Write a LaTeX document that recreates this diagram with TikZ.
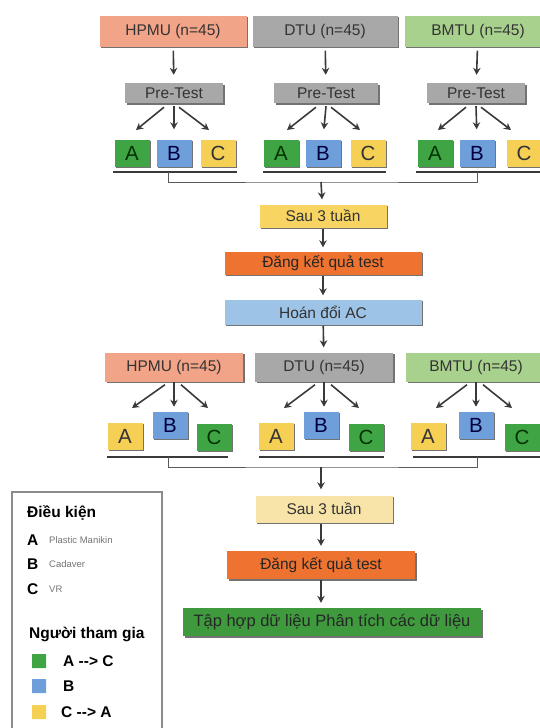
\documentclass[tikz,border=0pt]{standalone}
\usepackage{fontspec}
\setmainfont{Liberation Sans}
\usetikzlibrary{arrows.meta,shadows}

\definecolor{salmon}{HTML}{F2A489}
\definecolor{midgray}{HTML}{A8A8A8}
\definecolor{palegreen}{HTML}{A9D18E}
\definecolor{grpA}{HTML}{3FA544}
\definecolor{grpB}{HTML}{6E9FDA}
\definecolor{grpC}{HTML}{F6D055}
\definecolor{waityel}{HTML}{F8D563}
\definecolor{waitpale}{HTML}{F8E4A9}
\definecolor{regorange}{HTML}{EE7330}
\definecolor{swapblue}{HTML}{9DC3E6}
\definecolor{finalgreen}{HTML}{3F9A3E}
\definecolor{txt}{HTML}{333333}
\definecolor{linecol}{HTML}{3A3A3A}

\tikzset{
  box/.style={rectangle, inner sep=0pt, text=txt, font=\fontsize{15.5}{18}\selectfont,
    drop shadow={shadow xshift=1.6pt, shadow yshift=-1.6pt, fill=black!55, opacity=1}},
  letter/.style={box, minimum width=35pt, minimum height=27pt, font=\fontsize{20.5}{22}\selectfont},
  arr/.style={draw=linecol, line width=1.6pt, -{Stealth[length=7pt,width=7.5pt]}},
  bar/.style={draw=linecol, line width=2.6pt},
  link/.style={draw=black!65, line width=1pt},
  legtext/.style={anchor=west, inner sep=0pt, font=\bfseries\fontsize{15.5}{18}\selectfont},
  legsmall/.style={anchor=west, inner sep=0pt, text=black!55, font=\fontsize{9.5}{11}\selectfont},
  legsq/.style={rectangle, minimum size=14pt, inner sep=0pt, rounded corners=0.5pt}
}

\begin{document}
\begin{tikzpicture}[x=1pt,y=-1pt]

    \useasboundingbox (0,0) rectangle (540,728);

    % the three schools
    \node[box, fill=salmon, minimum width=147pt, minimum height=31pt] at (173,31) (hpmu) {HPMU (n=45)};
    \node[box, fill=midgray, minimum width=145pt, minimum height=31pt] at (325,31) (dtu) {DTU (n=45)};
    \node[box, fill=palegreen, minimum width=147pt, minimum height=31pt] at (478,31) (bmtu) {BMTU (n=45)};

    \node[box, fill=midgray, minimum width=98pt, minimum height=20pt] at (174,93) (pre1) {Pre-Test};
    \node[box, fill=midgray, minimum width=104pt, minimum height=20pt] at (326,93) (pre2) {Pre-Test};
    \node[box, fill=midgray, minimum width=98pt, minimum height=20pt] at (476,93) (pre3) {Pre-Test};

    \draw[arr, shorten <=4pt, shorten >=8pt] (hpmu) -- (pre1);
    \draw[arr, shorten <=4pt, shorten >=8pt] (dtu) -- (pre2);
    \draw[arr, shorten <=4pt, shorten >=8pt] (bmtu) -- (pre3);

    % first split
    \node[letter, fill=grpA, text=green!20!black] at (132,153) (a1) {A};
    \node[letter, fill=grpB, text=blue!25!black] at (174,153) (b1) {B};
    \node[letter, fill=grpC, text=black!80] at (218,153) (c1) {C};
    \node[letter, fill=grpA, text=green!20!black] at (281,153) (a2) {A};
    \node[letter, fill=grpB, text=blue!25!black] at (323,153) (b2) {B};
    \node[letter, fill=grpC, text=black!80] at (368,153) (c2) {C};
    \node[letter, fill=grpA, text=green!20!black] at (435,153) (a3) {A};
    \node[letter, fill=grpB, text=blue!25!black] at (477,153) (b3) {B};
    \node[letter, fill=grpC, text=black!80] at (524,153) (c3) {C};

    \coordinate (l1) at (136,130); \coordinate (r1) at (209,130);
    \coordinate (l2) at (287,130); \coordinate (r2) at (360,130);
    \coordinate (l3) at (438,130); \coordinate (r3) at (511,130);
    \draw[arr] ([xshift=-10pt,yshift=-4pt]pre1.south) -- (l1);
    \draw[arr, shorten >=10pt] ([yshift=-3pt]pre1.south) -- (b1.north);
    \draw[arr] ([xshift=5pt,yshift=-4pt]pre1.south) -- (r1);
    \draw[arr] ([xshift=-10pt,yshift=-4pt]pre2.south) -- (l2);
    \draw[arr, shorten >=10pt] ([yshift=-3pt]pre2.south) -- (b2.north);
    \draw[arr] ([xshift=5pt,yshift=-4pt]pre2.south) -- (r2);
    \draw[arr] ([xshift=-10pt,yshift=-4pt]pre3.south) -- (l3);
    \draw[arr, shorten >=10pt] ([yshift=-3pt]pre3.south) -- (b3.north);
    \draw[arr] ([xshift=5pt,yshift=-4pt]pre3.south) -- (r3);

    \draw[bar] (113,172) -- (237,172);
    \draw[bar] (263,172) -- (386,172);
    \draw[bar] (416,172) -- (545,172);

    \coordinate (k1) at (168,172);
    \coordinate (k2) at (321,182);
    \coordinate (k3) at (477,172);
    \draw[link] (k1) |- (k2) -| (k3);

    % middle column
    \node[box, fill=waityel, minimum width=127pt, minimum height=23pt] at (323,216) (wait1) {Sau 3 tuần};
    \node[box, fill=regorange, text=black!85, minimum width=197pt, minimum height=23pt] at (323,263) (reg1) {Đăng kết quả test};
    \node[box, fill=swapblue, minimum width=197pt, minimum height=25pt] at (323,312) (swap) {Hoán đổi AC};

    \draw[arr, shorten >=5pt] (k2) -- (wait1);
    \draw[arr, shorten <=1pt, shorten >=4pt] (wait1) -- (reg1);
    \draw[arr, shorten <=1pt, shorten >=4pt] (reg1) -- (swap);

    % the schools after the swap
    \node[box, fill=salmon, minimum width=138pt, minimum height=29pt] at (174,367) (hpmuB) {HPMU (n=45)};
    \node[box, fill=midgray, minimum width=138pt, minimum height=29pt] at (324,367) (dtuB) {DTU (n=45)};
    \node[box, fill=palegreen, minimum width=140pt, minimum height=29pt] at (476,367) (bmtuB) {BMTU (n=45)};

    \draw[arr, shorten <=1pt, shorten >=5pt] (swap) -- (dtuB);

    % second split
    \node[letter, fill=grpC, text=black!80] at (125,436) (a4) {A};
    \node[letter, fill=grpB, text=blue!25!black] at (170,425) (b4) {B};
    \node[letter, fill=grpA, text=green!20!black] at (214,437) (c4) {C};
    \node[letter, fill=grpC, text=black!80] at (276,436) (a5) {A};
    \node[letter, fill=grpB, text=blue!25!black] at (321,425) (b5) {B};
    \node[letter, fill=grpA, text=green!20!black] at (366,437) (c5) {C};
    \node[letter, fill=grpC, text=black!80] at (428,436) (a6) {A};
    \node[letter, fill=grpB, text=blue!25!black] at (476,425) (b6) {B};
    \node[letter, fill=grpA, text=green!20!black] at (522,437) (c6) {C};

    \coordinate (l4) at (132,408); \coordinate (r4) at (208,408);
    \coordinate (l5) at (284,408); \coordinate (r5) at (359,408);
    \coordinate (l6) at (436,408); \coordinate (r6) at (512,408);
    \draw[arr] ([xshift=-9pt,yshift=-3pt]hpmuB.south) -- (l4);
    \draw[arr, shorten >=2pt] (hpmuB.south) -- ++(0,27);
    \draw[arr] ([xshift=7pt,yshift=-3pt]hpmuB.south) -- (r4);
    \draw[arr] ([xshift=-9pt,yshift=-3pt]dtuB.south) -- (l5);
    \draw[arr, shorten >=2pt] (dtuB.south) -- ++(0,27);
    \draw[arr] ([xshift=7pt,yshift=-3pt]dtuB.south) -- (r5);
    \draw[arr] ([xshift=-9pt,yshift=-3pt]bmtuB.south) -- (l6);
    \draw[arr, shorten >=2pt] (bmtuB.south) -- ++(0,27);
    \draw[arr] ([xshift=7pt,yshift=-3pt]bmtuB.south) -- (r6);

    \draw[bar] (107,457) -- (228,457);
    \draw[bar] (259,457) -- (384,457);
    \draw[bar] (413,457) -- (545,457);

    \coordinate (k4) at (168,457);
    \coordinate (k5) at (321,467);
    \coordinate (k6) at (477,457);
    \draw[link] (k4) |- (k5) -| (k6);

    % lower column
    \node[box, fill=waitpale, minimum width=137pt, minimum height=27pt] at (324,509) (wait2) {Sau 3 tuần};
    \node[box, fill=regorange, text=black!85, minimum width=188pt, minimum height=28pt] at (321,565) (reg2) {Đăng kết quả test};
    \node[box, fill=finalgreen, text=black!85, minimum width=298pt, minimum height=28pt,
          font=\fontsize{16.5}{19}\selectfont] at (332,622) (final) {Tập hợp dữ liệu Phân tích các dữ liệu};

    \draw[arr, shorten >=6pt] (k5) -- (k5 |- wait2.north);
    \draw[arr, shorten <=1pt, shorten >=5pt] (k5 |- wait2.south) -- (k5 |- reg2.north);
    \draw[arr, shorten <=1pt, shorten >=5pt] (k5 |- reg2.south) -- (k5 |- final.north);

    % legend
    \draw[draw=black!45, line width=1.2pt] (12,735) -- (12,492) -- (162,492) -- (162,735);
    \node[legtext] at (27,513) (lgcond) {Điều kiện};
    \node[legtext] at (27,540) (lgA) {A};
    \node[legsmall] at (49,540) (lgAtxt) {Plastic Manikin};
    \node[legtext] at (27,564) (lgB) {B};
    \node[legsmall] at (49,564) (lgBtxt) {Cadaver};
    \node[legtext] at (27,589) (lgC) {C};
    \node[legsmall] at (49,589) (lgCtxt) {VR};
    \node[legtext] at (29,634) (lgpart) {Người tham gia};
    \node[legsq, fill=grpA] at (39,661) (sqA) {};
    \node[legtext] at (63,661) (lgAC) {A -{}-> C};
    \node[legsq, fill=grpB] at (39,686) (sqB) {};
    \node[legtext] at (63,686) (lgBB) {B};
    \node[legsq, fill=grpC] at (39,712) (sqC) {};
    \node[legtext] at (61,712) (lgCA) {C -{}-> A};

\end{tikzpicture}
\end{document}
